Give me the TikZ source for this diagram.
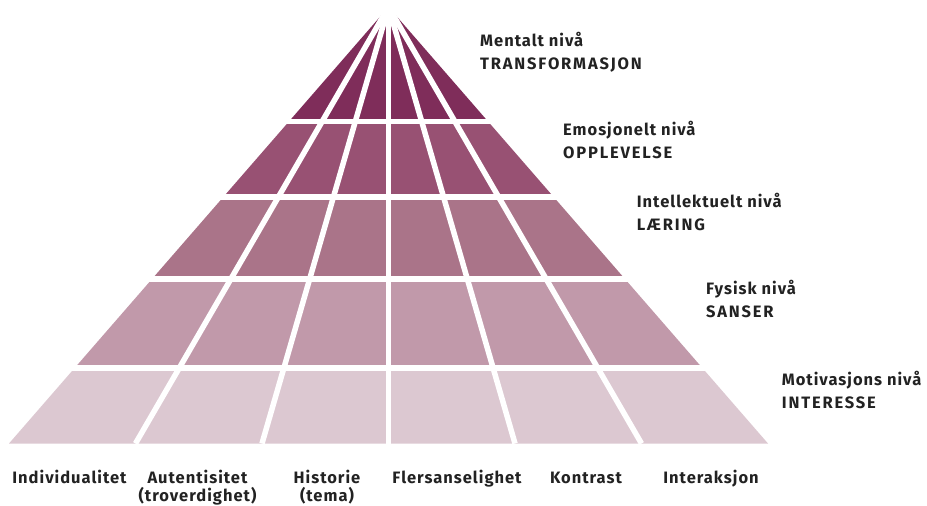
\documentclass[tikz,border=0pt]{standalone}
\usepackage{fontspec}
\setmainfont{Fira Sans}[LetterSpace=6]
\definecolor{cA}{HTML}{7F2D5A}
\definecolor{cB}{HTML}{985173}
\definecolor{cC}{HTML}{AA7489}
\definecolor{cD}{HTML}{C199AA}
\definecolor{cE}{HTML}{DCC8D1}
\definecolor{txt}{HTML}{222222}
\newcommand{\capsline}[1]{{\addfontfeature{LetterSpace=11}#1}}
\tikzset{
  gap/.style={white, line width=5.5pt},
  lvl/.style={anchor=base west, align=left, font=\fontsize{16.5}{23}\selectfont\bfseries, text=txt, inner sep=0pt},
  bot/.style={anchor=base, align=center, font=\fontsize{16.5}{18.2}\selectfont\bfseries, text=txt, inner sep=0pt}
}
\begin{document}
\begin{tikzpicture}[x=1pt,y=-1pt]
\useasboundingbox (0,0) rectangle (927,506);
\coordinate (apex) at (388.5,7);
\coordinate (bl) at (9,443.5);
\coordinate (br) at (768,443.5);
\begin{scope}
  \clip (apex) -- (bl) -- (br) -- cycle;
  \fill[cA] (0,0) rectangle (927,121.5);
  \fill[cB] (0,121.5) rectangle (927,197);
  \fill[cC] (0,197) rectangle (927,279);
  \fill[cD] (0,279) rectangle (927,368);
  \fill[cE] (0,368) rectangle (927,450);
\end{scope}
\foreach \i in {1,...,5} {
  \coordinate (b\i) at ({9+126.5*\i},443.5);
  \draw[gap] (apex) -- (b\i);
}
\foreach \y [count=\k] in {121.5,197,279,368} {
  \coordinate (gl\k) at (0,\y);
  \coordinate (gr\k) at (800,\y);
  \draw[gap] (gl\k) -- (gr\k);
}
\node[lvl] (l1) at (480,69) {Mentalt nivå\\\capsline{TRANSFORMASJON}};
\node[lvl] (l2) at (563,158.5) {Emosjonelt nivå\\\capsline{OPPLEVELSE}};
\node[lvl] (l3) at (636.7,230) {Intellektuelt nivå\\\capsline{LÆRING}};
\node[lvl] (l4) at (706,317) {Fysisk nivå\\\capsline{SANSER}};
\node[lvl] (l5) at (781.7,408.5) {Motivasjons nivå\\\capsline{INTERESSE}};
\node[bot] (t1) at (69.5,483.3) {Individualitet};
\node[bot] (t2) at (197.5,501.3) {Autentisitet\\(troverdighet)};
\node[bot] (t3) at (327,501.3) {Historie\\(tema)};
\node[bot] (t4) at (457,483.3) {Flersanselighet};
\node[bot] (t5) at (586,483.3) {Kontrast};
\node[bot] (t6) at (711,483.3) {Interaksjon};
\end{tikzpicture}
\end{document}
